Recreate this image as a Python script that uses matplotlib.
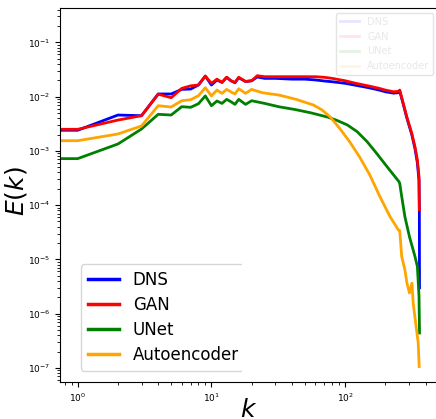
import numpy as np
import matplotlib
matplotlib.use('Agg')
import matplotlib.pyplot as plt
from matplotlib.ticker import LogLocator
from matplotlib.transforms import Bbox, TransformedBbox

# low wavenumbers (shared k = 0..16)
k_low = list(range(0, 17))
dns_low = [2.4e-3, 2.4e-3, 4.58e-3, 4.45e-3, 1.12e-2, 1.12e-2, 1.36e-2, 1.38e-2, 1.64e-2,
           2.39e-2, 1.64e-2, 2.02e-2, 1.83e-2, 2.27e-2, 1.96e-2, 1.80e-2, 2.23e-2]
gan_low = [2.5e-3, 2.5e-3, 3.7e-3, 4.45e-3, 1.11e-2, 9.55e-3, 1.42e-2, 1.58e-2, 1.64e-2,
           2.39e-2, 1.76e-2, 2.1e-2, 1.83e-2, 2.27e-2, 1.96e-2, 1.83e-2, 2.27e-2]
unet_low = [7.2e-4, 7.2e-4, 1.34e-3, 2.53e-3, 4.72e-3, 4.58e-3, 6.52e-3, 6.35e-3, 7.4e-3,
            1.03e-2, 6.8e-3, 8.3e-3, 7.5e-3, 8.9e-3, 8.05e-3, 7.2e-3, 8.9e-3]
ae_low = [1.54e-3, 1.54e-3, 2.05e-3, 2.88e-3, 6.8e-3, 6.43e-3, 8.4e-3, 8.77e-3, 1.04e-2,
          1.46e-2, 1.03e-2, 1.32e-2, 1.15e-2, 1.36e-2, 1.22e-2, 1.12e-2, 1.4e-2]

# higher wavenumbers, read per curve
k_dns = [18, 20, 22, 25, 30, 40, 50, 60, 70, 80, 100, 120, 150, 180, 200, 230, 250, 256,
         272, 289, 315, 333, 347, 357, 359, 360]
dns_hi = [1.9e-2, 1.96e-2, 2.3e-2, 2.17e-2, 2.17e-2, 2.1e-2, 2.1e-2, 2.03e-2, 1.94e-2, 1.88e-2,
          1.76e-2, 1.62e-2, 1.46e-2, 1.32e-2, 1.23e-2, 1.16e-2, 1.18e-2, 1.27e-2,
          7.3e-3, 4.1e-3, 2.0e-3, 1.1e-3, 6.0e-4, 2.8e-4, 8e-5, 3e-6]
k_gan = [18, 20, 22, 25, 30, 40, 50, 60, 70, 80, 100, 120, 150, 180, 200, 230, 250, 256,
         272, 289, 315, 333, 347, 357, 359]
gan_hi = [1.9e-2, 1.96e-2, 2.43e-2, 2.33e-2, 2.33e-2, 2.33e-2, 2.33e-2, 2.33e-2, 2.27e-2, 2.17e-2,
          1.96e-2, 1.76e-2, 1.57e-2, 1.42e-2, 1.32e-2, 1.23e-2, 1.25e-2, 1.32e-2,
          7.5e-3, 4.27e-3, 2.11e-3, 1.19e-3, 6.8e-4, 3.35e-4, 8.2e-5]
k_unet = [18, 20, 25, 32, 42, 55, 75, 88, 104, 123, 146, 172, 206, 253, 256,
          265, 280, 303, 333, 347, 357, 360]
unet_hi = [7.2e-3, 8.4e-3, 7.5e-3, 6.5e-3, 5.8e-3, 5.05e-3, 4.16e-3, 3.6e-3, 3.0e-3, 2.26e-3,
           1.48e-3, 9.0e-4, 5.1e-4, 2.7e-4, 2.53e-4,
           1.44e-4, 6.1e-5, 2.6e-5, 1.13e-5, 7.4e-6, 2.1e-6, 4.4e-7]
k_ae = [18, 20, 24, 32, 43, 58, 67, 77, 91, 108, 128, 153, 182, 217, 250, 256,
        265, 280, 290, 303, 316, 323, 337, 352, 358]
ae_hi = [1.15e-2, 1.36e-2, 1.18e-2, 1.07e-2, 8.9e-3, 7.0e-3, 5.7e-3, 4.27e-3, 2.6e-3, 1.48e-3,
         7.8e-4, 3.6e-4, 1.44e-4, 6.1e-5, 3.5e-5, 3.4e-5,
         1.13e-5, 6.4e-6, 3.65e-6, 2.4e-6, 3.65e-6, 1.56e-6, 6.7e-7, 2.9e-7, 1.06e-7]

labels = ['DNS', 'GAN', 'UNet', 'Autoencoder']
colors = ['blue', 'red', 'green', 'orange']

series = [
    (k_low + k_dns, dns_low + dns_hi),
    (k_low + k_gan, gan_low + gan_hi),
    (k_low + k_unet, unet_low + unet_hi),
    (k_low + k_ae, ae_low + ae_hi),
]

fig = plt.figure(figsize=(4.36, 4.19), dpi=100)
ax = fig.add_axes([60 / 436, 37 / 419, 378 / 436, 374 / 419])

for (k, e), lab, c in zip(series, labels, colors):
    ax.loglog(k, e, color=c, lw=2, label=lab)

ax.set_xlim(0.737, 495)
ax.set_ylim(5.5e-8, 0.43)
ax.yaxis.set_major_locator(LogLocator(base=10, numticks=15))
ax.tick_params(labelsize=6.5)

ax.set_xlabel(r'$k$', fontsize=18)
ax.set_ylabel(r'$E(k)$', fontsize=18)
ax.xaxis.set_label_coords(0.5, -0.043)
ax.yaxis.set_label_coords(-0.083, 0.51)

# faint legend left in the upper right
leg1 = ax.legend(loc='upper right', fontsize=7, edgecolor='#e4e4e4', framealpha=1)
for t in leg1.get_texts():
    t.set_color('#e8e8e8')
for h in leg1.get_lines():
    h.set_alpha(0.1)
ax.add_artist(leg1)

# main legend, lower left (frame cut on the right like the original)
leg2 = ax.legend(loc='lower left', bbox_to_anchor=(0.0556, 0.030), borderaxespad=0,
                 fontsize=12, labelspacing=0.42, handlelength=1.9)
for h in leg2.get_lines():
    h.set_linewidth(2.5)
clip = TransformedBbox(Bbox([[0, 0], [242 / 436, 1]]), fig.transFigure)
leg2.get_frame().set_clip_box(clip)
leg2.get_frame().set_clip_on(True)

fig.savefig('out.png', dpi=100)
